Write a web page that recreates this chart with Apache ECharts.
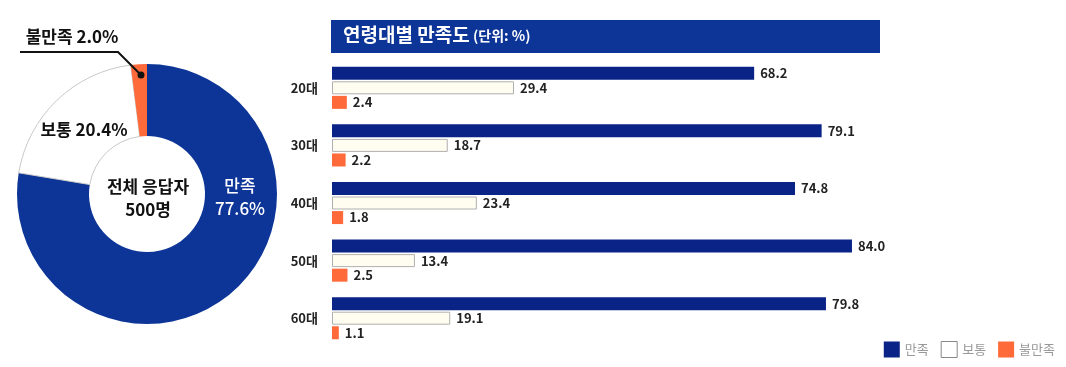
<!DOCTYPE html>
<html><head><meta charset="utf-8">
<script src="https://cdn.jsdelivr.net/npm/echarts@6/dist/echarts.min.js"></script>
<style>html,body{margin:0;padding:0;background:#fff}#c{width:1066px;height:367px}</style>
</head><body><div id="c"></div>
<script>
var pieNames = ['만족', '보통', '불만족'];
var pieValues = [77.6, 20.4, 2.0];
var ageCats = ['20대', '30대', '40대', '50대', '60대'];
var satisfied = [68.2, 79.1, 74.8, 84.0, 79.8];
var neutral = [29.4, 18.7, 23.4, 13.4, 19.1];
var dissatisfied = [2.4, 2.2, 1.8, 2.5, 1.1];

var FONT = '"Noto Sans CJK KR", "Noto Sans", sans-serif';
var chart = echarts.init(document.getElementById('c'));
var labelStyle = {show: true, position: 'right', distance: 6, color: '#222', fontSize: 13, fontWeight: 'bold', fontFamily: FONT,
  formatter: function (p) { return p.value.toFixed(1); }};

var option = {
  animation: false,
  textStyle: {fontFamily: FONT},
  grid: {left: 332, top: 59, width: 619, height: 288, containLabel: false},
  xAxis: {type: 'value', min: 0, max: 100, show: false},
  yAxis: {type: 'category', data: ageCats, inverse: true,
    axisLine: {show: false}, axisTick: {show: false}, splitLine: {show: false},
    axisLabel: {color: '#222', fontSize: 13, fontWeight: 'bold', margin: 14, fontFamily: FONT}},
  legend: {right: 6, bottom: 4, itemWidth: 16, itemHeight: 16, itemGap: 12, icon: 'rect',
    textStyle: {color: '#999', fontSize: 13, fontFamily: FONT},
    data: [{name: '만족', itemStyle: {color: '#0a2386'}}, {name: '보통', itemStyle: {color: '#fff', borderColor: '#888', borderWidth: 1}}, {name: '불만족', itemStyle: {color: '#ff6a3a'}}]},
  series: [
    {type: 'bar', name: '만족', data: satisfied, barWidth: 13, barGap: '12%', barCategoryGap: '27%',
      itemStyle: {color: '#0a2386'}, label: labelStyle},
    {type: 'bar', name: '보통', data: neutral, barWidth: 13,
      itemStyle: {color: '#fffcf0', borderColor: '#b0b0b0', borderWidth: 1}, label: labelStyle},
    {type: 'bar', name: '불만족', data: dissatisfied, barWidth: 13,
      itemStyle: {color: '#ff6a3a'}, label: labelStyle},
    {type: 'pie', name: 'pie', center: [147, 194], radius: [58, 130], startAngle: 90, clockwise: true,
      legendHoverLink: false, silent: true, label: {show: false}, labelLine: {show: false},
      data: [
        {name: pieNames[0], value: pieValues[0], itemStyle: {color: '#0c3597'}},
        {name: pieNames[1], value: pieValues[1], itemStyle: {color: '#ffffff', borderColor: '#c8c8c8', borderWidth: 1}},
        {name: pieNames[2], value: pieValues[2], itemStyle: {color: '#ff6a3a'}}
      ]}
  ],
  graphic: [
    {type: 'rect', z: 100, shape: {x: 331, y: 20, width: 549, height: 33}, style: {fill: '#0c3597'}},
    {type: 'text', z: 101, left: 343, top: 25, style: {text: '{a|연령대별 만족도} {b|(단위: %)}', fill: '#fff',
      rich: {a: {fontSize: 19, fontWeight: 'bold', fill: '#fff', fontFamily: FONT}, b: {fontSize: 14, fontWeight: 'bold', fill: '#fff', fontFamily: FONT, padding: [3, 0, 0, 0]}}}},
    {type: 'text', z: 100, x: 148, y: 198, style: {text: '전체 응답자\n' + '500명', align: 'center', verticalAlign: 'middle', fontSize: 17, fontWeight: 'bold', fill: '#111', lineHeight: 23, fontFamily: FONT}},
    {type: 'text', z: 100, x: 240, y: 197, style: {text: pieNames[0] + '\n' + pieValues[0].toFixed(1) + '%', align: 'center', verticalAlign: 'middle', fontSize: 17, fontWeight: 500, fill: '#fff', lineHeight: 23, fontFamily: FONT}},
    {type: 'text', z: 100, x: 84, y: 130, style: {text: pieNames[1] + ' ' + pieValues[1].toFixed(1) + '%', align: 'center', verticalAlign: 'middle', fontSize: 17, fontWeight: 'bold', fill: '#111', fontFamily: FONT}},
    {type: 'text', z: 100, x: 72, y: 37, style: {text: pieNames[2] + ' ' + pieValues[2].toFixed(1) + '%', align: 'center', verticalAlign: 'middle', fontSize: 17, fontWeight: 'bold', fill: '#111', fontFamily: FONT}},
    {type: 'polyline', z: 100, shape: {points: [[20, 52], [118, 52], [141, 75]]}, style: {stroke: '#111', lineWidth: 2, fill: null}},
    {type: 'circle', z: 100, shape: {cx: 141, cy: 75, r: 3.5}, style: {fill: '#111'}}
  ]
};
chart.setOption(option);
</script></body></html>
